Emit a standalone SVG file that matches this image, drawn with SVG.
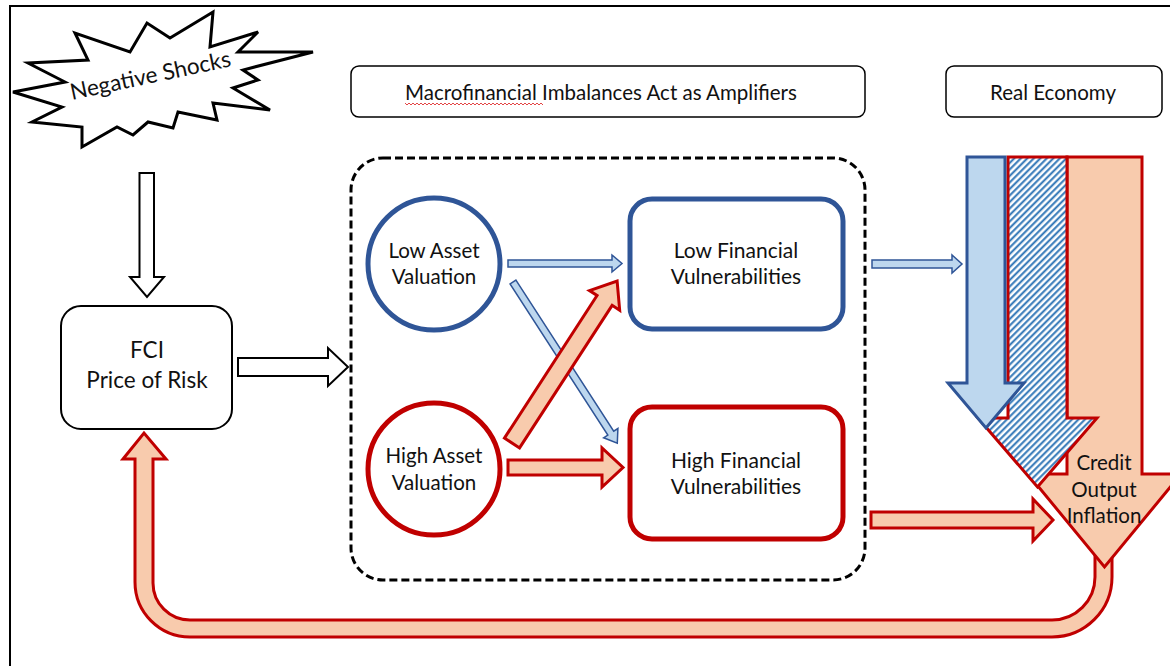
<svg xmlns="http://www.w3.org/2000/svg" width="1170" height="666" viewBox="0 0 1170 666">
<style>
.t{font-family:Lato,"Liberation Sans",sans-serif;font-size:21px;fill:#111;text-anchor:middle}
.h{font-size:20.5px}
.c{font-size:20.5px}
.f{font-size:22.5px}
.blk{fill:#fff;stroke:#000;stroke-width:2;stroke-linejoin:miter}
.bsm{fill:#BDD7EE;stroke:#2F5597;stroke-width:1.5}
.rar{fill:#F8CBAD;stroke:#C00000;stroke-width:3}
.bbig{fill:#BDD7EE;stroke:#2F5597;stroke-width:3}
.hdr{fill:#fff;stroke:#000;stroke-width:1.5}
</style>
<defs>
<pattern id="hatch" patternUnits="userSpaceOnUse" width="4.6" height="4.6" patternTransform="rotate(45)">
<rect width="4.6" height="4.6" fill="#fff"/>
<line x1="1.2" y1="0" x2="1.2" y2="4.6" stroke="#2E75B6" stroke-width="2"/>
</pattern>
<pattern id="squig" patternUnits="userSpaceOnUse" x="405" y="102" width="4" height="4">
<path d="M0,1 L2,3 L4,1" fill="none" stroke="#E03030" stroke-width="0.9"/>
</pattern>
</defs>
<rect width="1170" height="666" fill="#fff"/>
<rect x="10" y="6" width="1200" height="700" fill="none" stroke="#000" stroke-width="2"/>

<g id="negative-shocks">
<polygon points="213,12 210,47 258,32 238,52 313,52 243,70 258,80 233,88 270,110 213,103 217,120 178,112 173,128 148,122 133,135 117,127 82,147 82,127 32,122 62,107 13,92 65,82 28,63 88,60 75,33 130,52 147,23 170,38" fill="#fff" stroke="#000" stroke-width="3" stroke-linejoin="miter"/>
<text class="t f" x="152" y="83" transform="rotate(-12 152 83)">Negative Shocks</text>
</g>

<g id="header-macro">
<rect class="hdr" x="351" y="66" width="514" height="51" rx="8"/>
<text class="t h" x="601" y="100">Macrofinancial Imbalances Act as Amplifiers</text>
<rect x="405" y="103" width="138" height="4" fill="url(#squig)"/>
</g>
<g id="header-real">
<rect class="hdr" x="946" y="66" width="216" height="51" rx="8"/>
<text class="t h" x="1053" y="100">Real Economy</text>
</g>

<g id="amplifier-box">
<rect x="351" y="158" width="514" height="422" rx="32" fill="none" stroke="#000" stroke-width="3" stroke-dasharray="8 4"/>
</g>

<g id="fci">
<rect x="61" y="306" width="171" height="123" rx="20" fill="#fff" stroke="#000" stroke-width="2"/>
<text class="t f" x="147" y="358">FCI</text>
<text class="t f" x="147" y="388">Price of Risk</text>
</g>

<g id="low-asset">
<circle cx="434" cy="264" r="66" fill="#fff" stroke="#2F5597" stroke-width="5"/>
<text class="t c" x="434" y="258">Low Asset</text>
<text class="t c" x="434" y="284">Valuation</text>
</g>
<g id="high-asset">
<circle cx="434" cy="469" r="66" fill="#fff" stroke="#C00000" stroke-width="5"/>
<text class="t c" x="434" y="463">High Asset</text>
<text class="t c" x="434" y="490">Valuation</text>
</g>
<g id="low-fin">
<rect x="630" y="199" width="213" height="130" rx="22" fill="#fff" stroke="#2F5597" stroke-width="5"/>
<text class="t" x="736" y="258">Low Financial</text>
<text class="t" x="736" y="284">Vulnerabilities</text>
</g>
<g id="high-fin">
<rect x="630" y="407" width="213" height="132" rx="22" fill="#fff" stroke="#C00000" stroke-width="5"/>
<text class="t" x="736" y="468">High Financial</text>
<text class="t" x="736" y="494">Vulnerabilities</text>
</g>

<g id="connectors">
<path class="rar" d="M1095,555 L1095,577 A43,43 0 0 1 1052,620 L190,620 A37,37 0 0 1 153,583 L153,459 L166,459 L144,433 L123,459 L135,459 L135,582 A55,55 0 0 0 190,637 L1052,637 A60,60 0 0 0 1112,577 L1112,555 Z"/>
<path class="blk" d="M139.5,173 H154 V277 H164 L147,297 L130,277 H139.5 Z"/>
<path class="blk" d="M238,358 H328 V348 L348,367 L328,386 V376 H238 Z"/>
<path class="bsm" d="M508,260 H612 V255 L622,263.5 L612,272 V267 H508 Z"/>
<path class="bsm" transform="translate(513,282) rotate(57.1)" d="M0,-3.5 H180 V-8.5 L192,0 L180,8.5 V3.5 H0 Z"/>
<path class="rar" transform="translate(512,443) rotate(-57)" d="M0,-9 H170 V-18 L193,0 L170,18 V9 H0 Z"/>
<path class="rar" d="M508,460 H602 V448 L623,467.5 L602,487 V475 H508 Z"/>
<path class="bsm" d="M872,260 H952 V255 L962,264 L952,273 V268 H872 Z"/>
</g>

<g id="real-economy">
<path class="rar" d="M1067,157 H1142 V474 H1181 L1104.5,567 L1028,474 H1067 Z"/>
<path d="M1008,157 H1067 V418 H1097 L1037.5,487 L978,418 H1008 Z" fill="url(#hatch)" stroke="#C00000" stroke-width="3"/>
<path class="bbig" d="M967,157 H1005 V383 H1024 L986,428 L948,383 H967 Z"/>
<path class="rar" d="M871,512 H1033 V499 L1053,520 L1033,541 V528 H871 Z"/>
<text class="t c" x="1104" y="470">Credit</text>
<text class="t c" x="1104" y="497">Output</text>
<text class="t c" x="1104" y="523">Inflation</text>
</g>
</svg>
